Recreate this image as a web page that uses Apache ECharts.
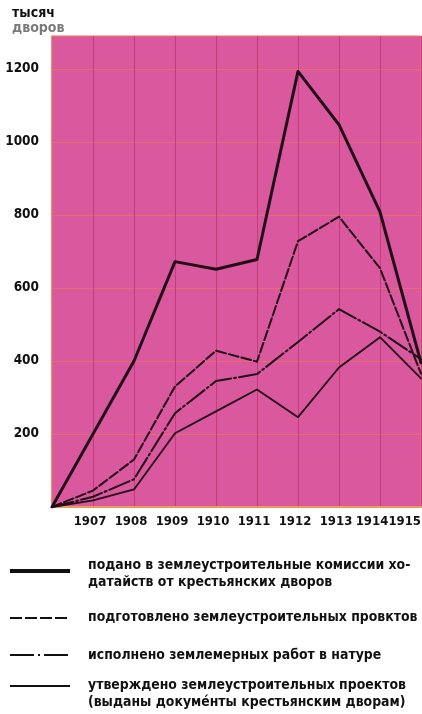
<!DOCTYPE html>
<html>
<head>
<meta charset="utf-8">
<script src="https://cdn.jsdelivr.net/npm/echarts@6/dist/echarts.min.js"></script>
<style>
  html, body { margin: 0; padding: 0; background: #ffffff; }
  #chart { width: 422px; height: 714px; }
</style>
</head>
<body>
<div id="chart"></div>
<script>
// Years on the horizontal axis (the first point is the zero start of the curves)
const years = ['1906', '1907', '1908', '1909', '1910', '1911', '1912', '1913', '1914', '1915'];

// Thousands of peasant households
const submitted = [0, 200, 400, 672, 651, 678, 1193, 1047, 808, 395];
const prepared  = [0, 45, 130, 330, 428, 398, 728, 795, 654, 365];
const surveyed  = [0, 28, 76, 257, 345, 364, 452, 542, 480, 405];
const approved  = [0, 18, 48, 202, 262, 322, 246, 382, 465, 352];

const yTicks = [200, 400, 600, 800, 1000, 1200];

const seriesNames = [
  ['подано в землеустроительные комиссии хо-', 'датайств от крестьянских дворов'],
  ['подготовлено землеустроительных провктов'],
  ['исполнено землемерных работ в натуре'],
  ['утверждено землеустроительных проектов', '(выданы докуме\u0301нты крестьянским дворам)']
];

const FONT = '"DejaVu Sans Condensed", "Liberation Sans Narrow", "DejaVu Sans", sans-serif';
const INK = '#220e18';

const chart = echarts.init(document.getElementById('chart'), null, { renderer: 'canvas' });

// Legend samples: short strokes drawn in the same styles as the curves
const legendRows = [
  { y: 571, textY: [565, 582], width: 4,   dash: null },
  { y: 618, textY: [617],      width: 2.2, dash: [12, 3] },
  { y: 655, textY: [655],      width: 2.2, dash: [24, 4, 2, 4] },
  { y: 686, textY: [685, 702], width: 2.2, dash: null }
];

const graphics = [
  { type: 'text', x: 12, y: 13, style: { text: 'тысяч', font: 'bold 14px ' + FONT, fill: '#111', verticalAlign: 'middle' } },
  { type: 'text', x: 12, y: 28, style: { text: 'дворов', font: 'bold 14px ' + FONT, fill: '#7a7a7a', verticalAlign: 'middle' } }
];
legendRows.forEach((row, i) => {
  graphics.push({
    type: 'line',
    shape: { x1: 10, y1: row.y, x2: 70, y2: row.y },
    style: { stroke: '#111', lineWidth: row.width, lineDash: row.dash || null }
  });
  seriesNames[i].forEach((line, j) => {
    graphics.push({
      type: 'text',
      x: 88, y: row.textY[j],
      style: { text: line, font: 'bold 13.9px ' + FONT, fill: '#111', verticalAlign: 'middle' }
    });
  });
});

function lineSeries(name, data, width, type) {
  return {
    name: name,
    type: 'line',
    data: data,
    symbol: 'none',
    silent: true,
    lineStyle: { color: INK, width: width, type: type, cap: 'round', join: 'round' },
    z: 3
  };
}

// Year labels sit a little to the left of their grid lines; the last one ends at the plot edge
const yearLabelStyle = { fontFamily: FONT, fontWeight: 'bold', fontSize: 13, color: '#111' };

chart.setOption({
  animation: false,
  backgroundColor: '#ffffff',
  grid: {
    left: 52, right: 1, top: 36, bottom: 207,
    containLabel: false,
    outerBoundsMode: 'none',
    show: true,
    backgroundColor: '#d9589e',
    borderColor: '#e8776a',
    borderWidth: 1
  },
  xAxis: {
    type: 'category',
    data: years,
    boundaryGap: false,
    axisTick: { show: false },
    axisLine: { show: true, lineStyle: { color: '#eb9a58', width: 2 } },
    splitLine: { show: true, lineStyle: { color: '#c43c7a', width: 1 } },
    axisLabel: {
      margin: 8,
      interval: 0,
      hideOverlap: false,
      alignMaxLabel: 'right',
      formatter: (v, i) => {
        if (i === 0) return '';
        if (i === years.length - 1) return '{last|' + v + '}';
        if (i === years.length - 2) return '{pen|' + v + '}';
        return '{n|' + v + '}';
      },
      rich: {
        n: Object.assign({ padding: [0, 6, 0, 0] }, yearLabelStyle),
        pen: Object.assign({ padding: [0, 16, 0, 0] }, yearLabelStyle),
        last: Object.assign({ padding: [0, 0, 0, 0] }, yearLabelStyle)
      }
    }
  },
  yAxis: {
    type: 'value',
    min: 0,
    max: 1290,
    interval: 200,
    axisTick: { show: false },
    axisLine: { show: true, lineStyle: { color: '#e8776a', width: 1.5 } },
    splitLine: { show: true, lineStyle: { color: '#e86c6c', width: 1 } },
    axisLabel: {
      margin: 13,
      color: '#111',
      fontFamily: FONT,
      fontWeight: 'bold',
      fontSize: 13.5,
      showMaxLabel: false,
      formatter: v => (yTicks.indexOf(v) < 0 ? '' : String(v))
    }
  },
  graphic: graphics,
  series: [
    lineSeries(seriesNames[0].join(''), submitted, 3, 'solid'),
    lineSeries(seriesNames[1][0], prepared, 2, [10, 3]),
    lineSeries(seriesNames[2][0], surveyed, 2, [22, 3, 2, 3]),
    lineSeries(seriesNames[3].join(' '), approved, 1.8, 'solid')
  ]
});
</script>
</body>
</html>
